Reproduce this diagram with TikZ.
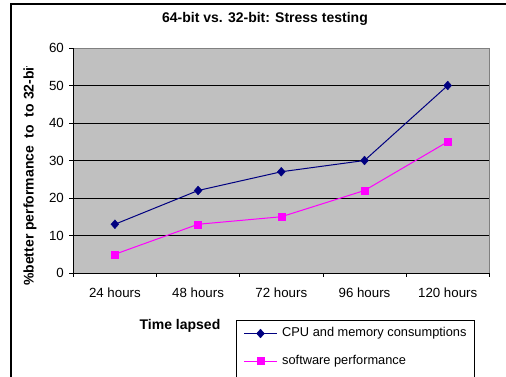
\documentclass[tikz,border=0pt]{standalone}
\usepackage{fontspec}
\setmainfont{Liberation Sans}
\usetikzlibrary{shapes.geometric}
\definecolor{plotbg}{HTML}{C0C0C0}
\definecolor{plotedge}{HTML}{808080}
\definecolor{cpu}{HTML}{000080}
\definecolor{sw}{HTML}{FF00FF}
\begin{document}
\begin{tikzpicture}[x=1pt,y=-1pt,
  lbl/.style={font=\fontsize{13.3}{15}\selectfont, inner sep=0pt},
  leglbl/.style={font=\fontsize{12.8}{15}\selectfont, inner sep=0pt},
  blbl/.style={font=\fontsize{14}{16}\selectfont\bfseries, inner sep=0pt},
  cpumark/.style={diamond, fill=cpu, draw=cpu, inner sep=0pt, minimum width=8pt, minimum height=9pt},
  swmark/.style={rectangle, fill=sw, draw=sw, inner sep=0pt, minimum size=7pt},
  cpuline/.style={draw=cpu, line width=1pt},
  swline/.style={draw=sw, line width=1pt}]
\useasboundingbox (0,0) rectangle (506,376);
\fill[white] (0,0) rectangle (506,376);
% outer frame
\draw[line width=1.2pt] (11,4) rectangle (530,400);
% title
\node[blbl] (title) at (265,19) {64-bit vs. 32-bit: Stress testing};
% plot area
\fill[plotbg] (73,48) rectangle (489,273);
\draw[plotedge, line width=1pt] (73,48) -- (489,48) -- (489,273);
\foreach \v in {10,20,30,40,50} {
  \draw[line width=0.8pt] (73,{273-3.75*\v}) -- (489,{273-3.75*\v});
}
\draw[line width=0.8pt] (73,48) -- (73,273) -- (489,273);
\foreach \v in {0,10,...,60} {
  \draw[line width=0.8pt] (69,{273-3.75*\v}) -- (73,{273-3.75*\v});
  \node[lbl, anchor=east] (yt\v) at (64,{273-3.75*\v}) {\v};
}
\foreach \i in {0,...,5} {
  \draw[line width=0.8pt] ({73.3+83.2*\i},273) -- ({73.3+83.2*\i},277);
}
\foreach \lab [count=\i from 0] in {24 hours,48 hours,72 hours,96 hours,120 hours} {
  \node[lbl] (xt\i) at ({114.9+83.2*\i},293) {\lab};
}
% axis titles
\begin{scope}
\clip (0,66) rectangle (60,376);
\node[blbl, rotate=90, anchor=west] (ylab) at (30,286) {\%better performance\ \ to\ \ to 32-bit};
\end{scope}
\node[blbl] (xlab) at (180,326) {Time lapsed};
% data
\foreach \v [count=\i] in {13,22,27,30,50} {
  \coordinate (c\i) at ({114.9+83.2*(\i-1)},{273-3.75*\v});
}
\foreach \v [count=\i] in {5,13,15,22,35} {
  \coordinate (s\i) at ({114.9+83.2*(\i-1)},{273-3.75*\v});
}
\draw[cpuline] (c1) -- (c2) -- (c3) -- (c4) -- (c5);
\draw[swline] (s1) -- (s2) -- (s3) -- (s4) -- (s5);
\foreach \i in {1,...,5} {
  \node[cpumark] (cm\i) at (c\i) {};
  \node[swmark] (sm\i) at (s\i) {};
}
% legend
\draw[line width=0.8pt, fill=white] (236,320) rectangle (474,400);
\coordinate (l1a) at (244,333.5);
\coordinate (l1b) at (277,333.5);
\coordinate (l2a) at (244,361);
\coordinate (l2b) at (277,361);
\draw[cpuline] (l1a) -- (l1b);
\draw[swline] (l2a) -- (l2b);
\node[cpumark] (lm1) at (260.5,333.5) {};
\node[swmark] (lm2) at (260.5,361) {};
\node[leglbl, anchor=west] (lt1) at (282,333.5) {CPU and memory consumptions};
\node[leglbl, anchor=west] (lt2) at (282,361) {software performance};
\end{tikzpicture}
\end{document}
